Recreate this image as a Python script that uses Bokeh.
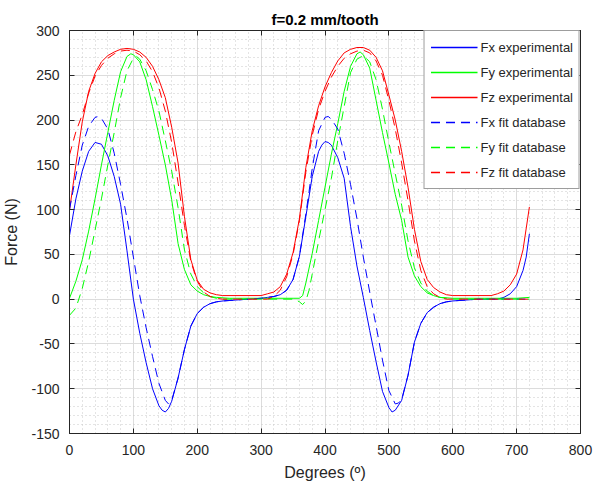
from bokeh.plotting import figure
from bokeh.models import Legend, LegendItem, LinearAxis, Range1d, FixedTicker
from bokeh.embed import file_html
from bokeh.resources import INLINE

title_text = "f=0.2 mm/tooth"
x_label = "Degrees (º)"
y_label = "Force (N)"
x_ticks = [0, 100, 200, 300, 400, 500, 600, 700, 800]
y_ticks = [-150, -100, -50, 0, 50, 100, 150, 200, 250, 300]
x_minor = list(range(0, 801, 20))
y_minor = list(range(-150, 301, 10))

# (degrees, force N)
fx_exp = [(0,71),(10,112),(20,143),(30,165),(40,175),(50,173),(60,160),(70,137),(80,106),(90,54),(100,0),
          (110,-38),(120,-71),(130,-100),(140,-119),(145,-124),(150,-126),(155,-122),(160,-114),(170,-88),
          (180,-56),(190,-30),(200,-16),
          (210,-9),(220,-5),(230,-3),(240,-2),(260,-1),(280,0),(300,1),(310,2),(320,3),(330,5),(340,10),(350,22),
          (360,48),(370,92),(380,137),(390,165),(395,172),(400,176),(405,175),(410,172),(420,158),(430,135),
          (440,81),(450,37),(460,2),
          (470,-35),(480,-70),(490,-103),(500,-121),(505,-126),(510,-124),(520,-113),(530,-85),(540,-48),(550,-27),
          (560,-15),(570,-9),(580,-5),(590,-3),(600,-2),(620,-1),(640,0),(660,0),(670,0),(680,2),(690,6),(700,14),
          (710,32),(715,47),(720,73)]
fy_exp = [(0,1),(10,20),(20,44),(30,76),(40,112),(50,150),(60,186),(70,222),(80,254),(90,271),(96,274),(100,273),
          (110,265),(120,245),(130,215),(140,183),(150,150),(160,111),(170,62),(180,33),(190,16),(200,9),(210,5),
          (220,3),(230,2),(250,1),(300,1),(350,1),(360,1),(365,4),(370,18),(380,51),(390,88),(400,125),(410,162),
          (420,196),(430,232),(440,260),(450,274),(455,276),(460,273),(470,258),(480,222),(490,186),(500,152),
          (510,117),(520,88),(530,47),(540,26),(550,14),(560,7),(570,4),(580,2),(600,1),(650,1),(700,1),(720,2)]
fz_exp = [(0,99),(10,150),(20,198),(30,232),(40,252),(50,265),(60,272),(70,276),(80,279),(90,280),(100,279),
          (110,276),(120,270),(130,260),(140,245),(150,225),(160,192),(170,152),(180,92),(190,44),(200,21),(210,11),
          (220,7),(230,5),(240,4),(300,4),(310,6),(320,8),(330,14),(340,28),(350,52),(360,90),(370,147),(380,188),
          (390,216),(400,237),(410,253),(420,266),(430,275),(440,279),(450,281),(460,281),(470,278),(480,270),
          (490,255),(500,228),(510,200),(520,165),(530,125),(540,78),(550,42),(560,22),(570,13),(580,8),(590,5),
          (600,4),(660,4),(670,6),(680,9),(690,16),(700,28),(710,55),(720,103)]
fx_fit = [(0,100),(10,138),(20,172),(30,193),(40,203),(45,204),(50,202),(60,190),(70,163),(80,128),(90,90),
          (100,47),(110,4),(120,-32),(130,-64),(140,-94),(150,-113),(155,-117),(160,-113),(170,-88),(180,-56),
          (190,-30),(200,-16),(210,-9),(220,-5),(230,-3),(240,-2),(260,-1),(280,0),(300,1),(310,2),(320,3),(330,5),
          (340,10),(350,22),(360,48),(370,95),(375,120),(380,146),(390,188),(400,203),(405,204),(410,201),(420,190),
          (430,163),(440,128),(450,90),(460,47),(470,8),(480,-30),(490,-68),(500,-102),(510,-117),(515,-116),
          (520,-112),(530,-85),(540,-48),(550,-27),(560,-15),(570,-9),(580,-5),(590,-3),(600,-2),(620,-1),(640,0),
          (720,0)]
fy_fit = [(0,-18),(10,-10),(20,12),(30,42),(40,77),(50,112),(60,150),(70,186),(80,225),(90,255),(100,269),
          (105,271),(110,268),(120,255),(130,234),(140,210),(150,177),(160,143),(170,102),(180,55),(190,28),
          (200,14),(210,7),(220,3),(230,1),(240,0),(350,0),(355,-1),(360,-3),(365,-6),(370,-2),(375,10),(380,28),
          (390,65),(400,100),(410,135),(420,177),(430,215),(440,253),(450,268),(460,272),(470,265),(480,245),
          (490,212),(500,175),(510,140),(520,105),(530,65),(540,35),(550,18),(560,9),(570,4),(580,2),(590,1),
          (600,0),(720,0)]
fz_fit = [(0,161),(10,187),(20,206),(30,230),(40,249),(50,261),(60,269),(70,274),(80,277),(90,278),(100,277),
          (110,273),(120,266),(130,254),(140,236),(150,210),(160,175),(170,130),(180,82),(190,42),(200,20),(210,8),
          (220,3),(230,1),(240,0),(310,0),(320,3),(330,10),(340,25),(350,50),(360,88),(370,142),(380,183),
          (390,212),(400,232),(410,248),(420,260),(430,269),(440,274),(450,277),(460,278),(470,275),(480,266),
          (490,250),(500,222),(510,190),(520,152),(530,110),(540,65),(550,32),(560,14),(570,6),(580,2),(590,0),
          (720,0)]

DASH = "9 6"
series = [
    ("Fx experimental", fx_exp, "#0000ff", "solid"),
    ("Fy experimental", fy_exp, "#00ff00", "solid"),
    ("Fz experimental", fz_exp, "#ff0000", "solid"),
    ("Fx fit database", fx_fit, "#0000ff", DASH),
    ("Fy fit database", fy_fit, "#00ff00", DASH),
    ("Fz fit database", fz_fit, "#ff0000", DASH),
]

AX = "#262626"
FONT = "Liberation Sans"

p = figure(width=593, height=488, output_backend="svg", toolbar_location=None,
           x_range=Range1d(0, 800), y_range=Range1d(-150, 300),
           min_border_left=69, min_border_right=13, min_border_top=30, min_border_bottom=55,
           title=title_text)
p.background_fill_color = "white"
p.border_fill_color = "white"
p.outline_line_color = AX
p.outline_line_width = 1
# range used only by the legend-key renderers, so that they fall outside the frame
p.extra_x_ranges = {"key": Range1d(5000, 6000)}

p.title.align = "center"
p.title.text_font = FONT
p.title.text_font_size = "15px"
p.title.text_font_style = "bold"
p.title.text_color = "black"
p.title.standoff = 6

xt = FixedTicker(ticks=x_ticks, minor_ticks=x_minor)
yt = FixedTicker(ticks=y_ticks, minor_ticks=y_minor)
p.xaxis.ticker = xt
p.yaxis.ticker = yt
p.yaxis.major_label_overrides = {v: str(v) for v in y_ticks}
p.xaxis.major_label_overrides = {v: str(v) for v in x_ticks}

for ax in (p.xaxis[0], p.yaxis[0]):
    ax.axis_line_color = AX
    ax.major_tick_line_color = AX
    ax.major_tick_in = 5
    ax.major_tick_out = 0
    ax.minor_tick_line_color = None
    ax.major_label_text_font = FONT
    ax.major_label_text_font_size = "14px"
    ax.major_label_text_color = AX
    ax.axis_label_text_font = FONT
    ax.axis_label_text_font_size = "16px"
    ax.axis_label_text_font_style = "normal"
    ax.axis_label_text_color = AX
p.xaxis.axis_label = x_label
p.yaxis.axis_label = y_label
p.xaxis.major_label_standoff = 7
p.yaxis.major_label_standoff = 6
p.xaxis.axis_label_standoff = 6
p.yaxis.axis_label_standoff = 8

top = LinearAxis(ticker=FixedTicker(ticks=x_ticks), major_label_text_font_size="1px",
                 major_label_text_color=None, axis_label=None,
                 major_label_standoff=0, major_tick_in=5, major_tick_out=0,
                 minor_tick_line_color=None, axis_line_color=AX, major_tick_line_color=AX)
right = LinearAxis(ticker=FixedTicker(ticks=y_ticks), major_label_text_font_size="1px",
                   major_label_text_color=None, axis_label=None,
                   major_label_standoff=0, major_tick_in=5, major_tick_out=0,
                   minor_tick_line_color=None, axis_line_color=AX, major_tick_line_color=AX)
p.add_layout(top, "above")
p.add_layout(right, "right")

for g in (p.xgrid[0], p.ygrid[0]):
    g.grid_line_color = "#dcdcdc"
    g.grid_line_width = 1
    g.minor_grid_line_color = "#c8c8c8"
    g.minor_grid_line_dash = "1 3"
    g.minor_grid_line_width = 1

items = []
for name, pts, color, dash in series:
    xs = [a for a, _ in pts]
    ys = [b for _, b in pts]
    p.line(xs, ys, line_color=color, line_width=1, line_dash=dash)
    key = p.line(xs, ys, line_color=color, line_width=1.4, line_dash=dash, x_range_name="key")
    items.append(LegendItem(label=name, renderers=[key]))

legend = Legend(items=items, location="top_right", margin=0, padding=6, spacing=5,
                glyph_width=47, glyph_height=20, label_height=20, label_standoff=3,
                label_text_font=FONT, label_text_font_size="13px", label_text_color=AX,
                border_line_color="#3c3c3c", border_line_width=1,
                background_fill_color="white", background_fill_alpha=1)
p.add_layout(legend, "center")

open("out.html", "w").write(file_html(p, INLINE))
